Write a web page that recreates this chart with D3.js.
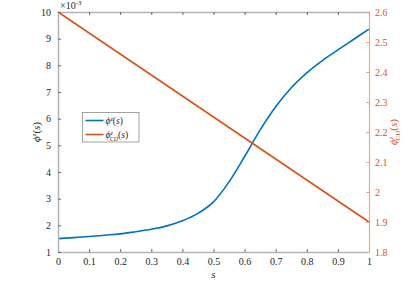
<!DOCTYPE html>
<html>
<head>
<meta charset="utf-8">
<script src="https://cdn.jsdelivr.net/npm/d3@7"></script>
<style>
  body { margin: 0; background: #fff; }
</style>
</head>
<body>
<svg id="chart" width="415" height="300"></svg>
<script>
// s values along the horizontal axis
var sValues = [0, 0.05, 0.1, 0.15, 0.2, 0.25, 0.3, 0.35, 0.4, 0.45, 0.5, 0.55, 0.6, 0.65, 0.7, 0.75, 0.8, 0.85, 0.9, 0.95, 1];
// phi^z(s), in units of 1e-3 (left axis)
var phiZ = [1.50, 1.54, 1.58, 1.63, 1.68, 1.76, 1.85, 1.98, 2.17, 2.45, 2.88, 3.63, 4.58, 5.58, 6.45, 7.16, 7.72, 8.18, 8.58, 8.97, 9.36];
// phi^z_CIJ(s) endpoints (right axis)
var cijS = [0, 1];
var phiCIJ = [2.6, 1.9];

var xTicks = [0, 0.1, 0.2, 0.3, 0.4, 0.5, 0.6, 0.7, 0.8, 0.9, 1];
var yLeftTicks = [1, 2, 3, 4, 5, 6, 7, 8, 9, 10];
var yRightTicks = [1.8, 1.9, 2, 2.1, 2.2, 2.3, 2.4, 2.5, 2.6];

var blue = "#0072BD", orange = "#D95319", axisGray = "#b3b3b3";
var serif = "'Liberation Serif', 'DejaVu Serif', serif";
var m = {left: 58, right: 369, top: 12, bottom: 252};

var svg = d3.select("#chart");

var x = d3.scaleLinear().domain([0, 1]).range([m.left, m.right]);
var yL = d3.scaleLinear().domain([1, 10]).range([m.bottom, m.top]);
var yR = d3.scaleLinear().domain([1.8, 2.6]).range([m.bottom, m.top]);

// data lines
var lineZ = d3.line()
  .x(function(d, i) { return x(sValues[i]); })
  .y(function(d) { return yL(d); })
  .curve(d3.curveMonotoneX);

svg.append("path")
  .attr("d", lineZ(phiZ))
  .attr("fill", "none")
  .attr("stroke", blue)
  .attr("stroke-width", 1.6);

var lineC = d3.line()
  .x(function(d, i) { return x(cijS[i]); })
  .y(function(d) { return yR(d); });

svg.append("path")
  .attr("d", lineC(phiCIJ))
  .attr("fill", "none")
  .attr("stroke", orange)
  .attr("stroke-width", 1.6);

// axes: bottom, top, left (gray), right (orange)
var gx = svg.append("g")
  .attr("transform", "translate(0," + m.bottom + ")")
  .call(d3.axisBottom(x).tickValues(xTicks).tickSizeInner(-3).tickSizeOuter(0)
    .tickPadding(6).tickFormat(d3.format("")));
gx.select(".domain").attr("stroke", axisGray).attr("stroke-width", 1.5);
gx.selectAll(".tick line").attr("stroke", "#666");
gx.selectAll("text").attr("font-size", 10).attr("fill", "#262626");

var gt = svg.append("g")
  .attr("transform", "translate(0," + m.top + ")")
  .call(d3.axisTop(x).tickValues(xTicks).tickSizeInner(-3).tickSizeOuter(0).tickFormat(""));
gt.select(".domain").attr("stroke", axisGray).attr("stroke-width", 1.5);
gt.selectAll(".tick line").attr("stroke", "#666");

var gl = svg.append("g")
  .attr("transform", "translate(" + m.left + ",0)")
  .call(d3.axisLeft(yL).tickValues(yLeftTicks).tickSizeInner(-3).tickSizeOuter(0)
    .tickPadding(7).tickFormat(d3.format("d")));
gl.select(".domain").attr("stroke", axisGray).attr("stroke-width", 1.5);
gl.selectAll(".tick line").attr("stroke", "#666");
gl.selectAll("text").attr("font-size", 10).attr("fill", "#262626");

var gr = svg.append("g")
  .attr("transform", "translate(" + m.right + ",0)")
  .call(d3.axisRight(yR).tickValues(yRightTicks).tickSizeInner(-3).tickSizeOuter(0)
    .tickPadding(6).tickFormat(d3.format("")));
gr.select(".domain").attr("stroke", "#eba98c").attr("stroke-width", 1.2);
gr.selectAll(".tick line").attr("stroke", "#eba98c");
gr.selectAll("text").attr("font-size", 10).attr("fill", orange);

// exponent label
var expo = svg.append("text")
  .attr("x", m.left + 2)
  .attr("y", 9)
  .attr("font-size", 10)
  .attr("fill", "#262626");
expo.append("tspan").text("\u00d710");
expo.append("tspan").attr("font-size", 7).attr("dy", -4).text("-3");

// axis labels
svg.append("text")
  .attr("x", x(0.5))
  .attr("y", 278)
  .attr("text-anchor", "middle")
  .attr("font-size", 11)
  .attr("font-style", "italic")
  .attr("fill", "#262626")
  .text("s");

var ly = svg.append("text")
  .attr("transform", "translate(40," + ((m.top + m.bottom) / 2) + ") rotate(-90)")
  .attr("text-anchor", "middle")
  .attr("font-size", 11)
  .attr("fill", "#262626");
ly.append("tspan").attr("font-style", "italic").text("\u03d5");
ly.append("tspan").attr("font-size", 7).attr("dy", -4).attr("font-style", "italic").text("z");
ly.append("tspan").attr("dy", 4).text("(");
ly.append("tspan").attr("font-style", "italic").text("s");
ly.append("tspan").text(")");

var ry = svg.append("text")
  .attr("transform", "translate(397," + ((m.top + m.bottom) / 2) + ") rotate(-90)")
  .attr("text-anchor", "middle")
  .attr("font-size", 11)
  .attr("fill", orange);
ry.append("tspan").attr("font-style", "italic").text("\u03d5");
ry.append("tspan").attr("font-size", 7).attr("dy", -4).attr("font-style", "italic").text("z");
ry.append("tspan").attr("font-size", 7).attr("dx", -4).attr("dy", 7).text("CIJ");
ry.append("tspan").attr("dy", -3).text("(");
ry.append("tspan").attr("font-style", "italic").text("s");
ry.append("tspan").text(")");

// legend
var legendItems = [
  {color: blue, sub: null},
  {color: orange, sub: "CIJ"}
];
var lg = svg.append("g").attr("transform", "translate(82.5,112.5)");
lg.append("rect")
  .attr("width", 56.5).attr("height", 29.5)
  .attr("fill", "#fff").attr("stroke", "#8c8c8c").attr("stroke-width", 0.8);
legendItems.forEach(function(it, i) {
  var cy = 8 + i * 14;
  lg.append("line")
    .attr("x1", 3).attr("x2", 21).attr("y1", cy).attr("y2", cy)
    .attr("stroke", it.color).attr("stroke-width", 1.6);
  var t = lg.append("text").attr("x", 23).attr("y", cy + 3.5)
    .attr("font-size", 9.5).attr("fill", "#262626");
  t.append("tspan").attr("font-style", "italic").text("\u03d5");
  t.append("tspan").attr("font-size", 6).attr("dy", -3.5).attr("font-style", "italic").text("z");
  if (it.sub) {
    t.append("tspan").attr("font-size", 6).attr("dx", -3).attr("dy", 6).text(it.sub);
    t.append("tspan").attr("dy", -2.5).text("(");
  } else {
    t.append("tspan").attr("dy", 3.5).text("(");
  }
  t.append("tspan").attr("font-style", "italic").text("s");
  t.append("tspan").text(")");
});

// serif font everywhere (axis groups set their own sans-serif default)
svg.selectAll("g").attr("font-family", serif);
svg.selectAll("text").attr("font-family", serif);
</script>
</body>
</html>
